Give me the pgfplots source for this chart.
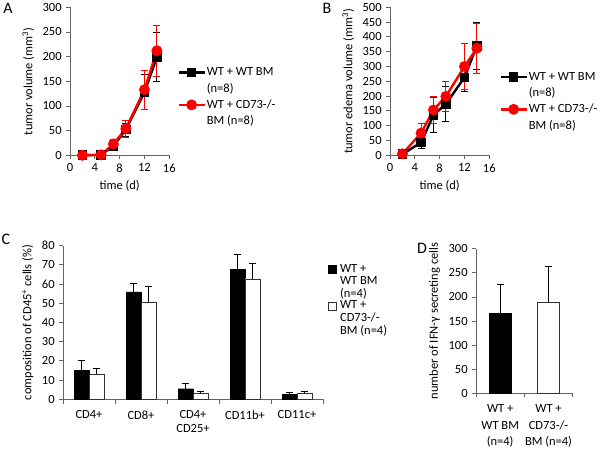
\documentclass[border=0pt]{standalone}
\usepackage{fontspec}
\setmainfont{Carlito}
\usepackage{pgfplots}
\pgfplotsset{compat=1.18}

\definecolor{axgray}{RGB}{100,100,100}
\newcommand{\fs}{\fontsize{12.5bp}{14bp}\selectfont}

\pgfplotsset{
  panel/.style={
    scale only axis, clip=false,
    axis x line*=bottom, axis y line*=left,
    axis line style={axgray, line width=0.8bp},
    tick style={axgray, line width=0.8bp},
    tick align=outside, major tick length=4bp,
    tick label style={font=\fs}, label style={font=\fs},
    /pgf/number format/assume math mode=true,
    legend cell align=left,
  },
  linepanel/.style={
    panel,
    width=99.3bp, height=148bp,
    xmin=0, xmax=16, xtick={0,4,...,16}, ymin=0,
    xlabel={time (d)},
    legend style={draw=none, fill=none, font=\fs, row sep=3.5bp,
      at={(1.08,0.60)}, anchor=north west, inner sep=0pt,
      nodes={inner sep=1bp}},
    legend image code/.code={\draw[mark repeat=2,mark phase=2,#1]
      plot coordinates {(0bp,0bp)(13bp,0bp)(26bp,0bp)};},
  },
  wt/.style={black, line width=2.4bp, mark=square*, mark size=3.6bp,
    mark options={solid},
    error bars/.cd, y dir=both, y explicit,
    error bar style={line width=0.8bp, black},
    error mark options={rotate=90, mark size=3.5bp, line width=0.8bp, black}},
  ko/.style={red, line width=2.4bp, mark=*, mark size=4.2bp,
    error bars/.cd, y dir=both, y explicit,
    error bar style={line width=0.8bp, red},
    error mark options={rotate=90, mark size=3.5bp, line width=0.8bp, red}},
  sqlegend/.style={legend image code/.code={\draw[##1, line width=0.6bp] (0bp,-4bp) rectangle (8bp,4bp);}},
}

\begin{document}
\fs
\begin{tikzpicture}
\useasboundingbox (0bp,0bp) rectangle (600bp,449bp);

% panel letters
\node[anchor=center, font=\fontsize{16bp}{17bp}\selectfont] at (8bp,441bp) {A};
\node[anchor=center, font=\fontsize{16bp}{17bp}\selectfont] at (327bp,441bp) {B};
\node[anchor=center, font=\fontsize{16bp}{17bp}\selectfont] at (6bp,210bp) {C};
\node[anchor=center, font=\fontsize{16bp}{17bp}\selectfont] at (422bp,201bp) {D};

% ---------- A ----------
\begin{axis}[linepanel, at={(70bp,293.7bp)}, anchor=south west,
  ymax=300, ytick={0,50,...,300},
  ylabel={tumor volume (mm\textsuperscript{3})}]
\addplot[wt] coordinates {
  (2,0) +- (0,1) (5,1) +- (0,1) (7,19) +- (0,9) (9,52) +- (0,13)
  (12,128) +- (0,35) (14,199) +- (0,50)};
\addlegendentry{WT + WT BM}
\addlegendimage{empty legend}
\addlegendentry{(n=8)}
\addplot[ko] coordinates {
  (2,0) +- (0,1) (5,1) +- (0,1) (7,23) +- (0,10) (9,54) +- (0,17)
  (12,133) +- (0,39) (14,212) +- (0,52)};
\addlegendentry{WT + CD73-/-}
\addlegendimage{empty legend}
\addlegendentry{BM (n=8)}
\end{axis}

% ---------- B ----------
\begin{axis}[linepanel, at={(390bp,293.7bp)}, anchor=south west,
  ymax=500, ytick={0,50,...,500},
  ylabel={tumor edema volume (mm\textsuperscript{3})},
  legend style={at={(1.10,0.57)}}]
\addplot[wt] coordinates {
  (2,4) +- (0,2) (5,43) +- (0,20) (7,136) +- (0,59) (9,173) +- (0,60)
  (12,263) +- (0,47) (14,370) +- (0,80)};
\addlegendentry{WT + WT BM}
\addlegendimage{empty legend}
\addlegendentry{(n=8)}
\addplot[ko] coordinates {
  (2,5) +- (0,2) (5,75) +- (0,32) (7,153) +- (0,46) (9,199) +- (0,51)
  (12,300) +- (0,78) (14,362) +- (0,85)};
\addlegendentry{WT + CD73-/-}
\addlegendimage{empty legend}
\addlegendentry{BM (n=8)}
\end{axis}

% ---------- C ----------
\begin{axis}[panel, at={(63bp,49.7bp)}, anchor=south west,
  width=260bp, height=153.6bp,
  ybar=0pt, bar width=15bp,
  xmin=-0.5, xmax=4.5, ymin=0, ymax=80, ytick={0,10,...,80},
  xtick={0,...,4}, major x tick style={draw=none},
  xticklabels={CD4+, CD8+, {CD4+\\CD25+}, CD11b+, CD11c+},
  xticklabel style={align=center, yshift=-3bp},
  minor xtick={-0.5,0.5,...,4.5}, minor tick length=5bp,
  minor x tick style={axgray, line width=0.8bp},
  ylabel={composition of CD45\textsuperscript{+} cells (\%)},
  legend style={draw=none, fill=none, font=\fs, row sep=0.8bp,
    at={(1.02,0.885)}, anchor=north west, inner sep=0pt,
    nodes={inner sep=0.6bp},
    /tikz/every odd column/.append style={column sep=2.5bp}},
  error bars/y dir=plus, error bars/y explicit,
  error bars/error bar style={black, line width=0.8bp},
  error bars/error mark options={rotate=90, mark size=3.5bp, black, line width=0.8bp}]
\addplot[fill=black, draw=black, sqlegend] coordinates {
  (0,15) +- (0,5) (1,56) +- (0,4.5) (2,5.5) +- (0,3) (3,67.5) +- (0,8) (4,2.4) +- (0,1.3)};
\addlegendentry{WT +}
\addlegendimage{empty legend}
\addlegendentry{WT BM}
\addlegendimage{empty legend}
\addlegendentry{(n=4)\rule[-9bp]{0pt}{0pt}}
\addplot[fill=white, draw=black!80, sqlegend] coordinates {
  (0,13) +- (0,3.2) (1,50.5) +- (0,8.5) (2,3.2) +- (0,1.1) (3,62.8) +- (0,7.8) (4,3.1) +- (0,1.1)};
\addlegendentry{WT +}
\addlegendimage{empty legend}
\addlegendentry{CD73-/-}
\addlegendimage{empty legend}
\addlegendentry{BM (n=4)}
\end{axis}

% ---------- D ----------
\begin{axis}[panel, at={(476bp,55.7bp)}, anchor=south west,
  width=96.7bp, height=144.6bp,
  ybar=0pt, bar width=22bp,
  xmin=-0.5, xmax=1.5, ymin=0, ymax=300, ytick={0,50,...,300},
  xtick={0,1}, major x tick style={draw=none},
  xticklabels={{WT +\\WT BM\\(n=4)}, {WT +\\CD73-/-\\BM (n=4)}},
  xticklabel style={align=center, yshift=-3bp,
    font=\fontsize{12.5bp}{16.5bp}\selectfont},
  minor xtick={-0.5,0.5,1.5}, minor tick length=4bp,
  minor x tick style={axgray, line width=0.8bp},
  ylabel={number of IFN-γ secreting cells},
  error bars/y dir=plus, error bars/y explicit,
  error bars/error bar style={black, line width=0.8bp},
  error bars/error mark options={rotate=90, mark size=3.5bp, black, line width=0.8bp}]
\addplot[fill=black, draw=black, bar shift=0pt] coordinates {(0,167) +- (0,59)};
\addplot[fill=white, draw=black!80, bar shift=0pt] coordinates {(1,188) +- (0,75)};
\end{axis}
\end{tikzpicture}
\end{document}
